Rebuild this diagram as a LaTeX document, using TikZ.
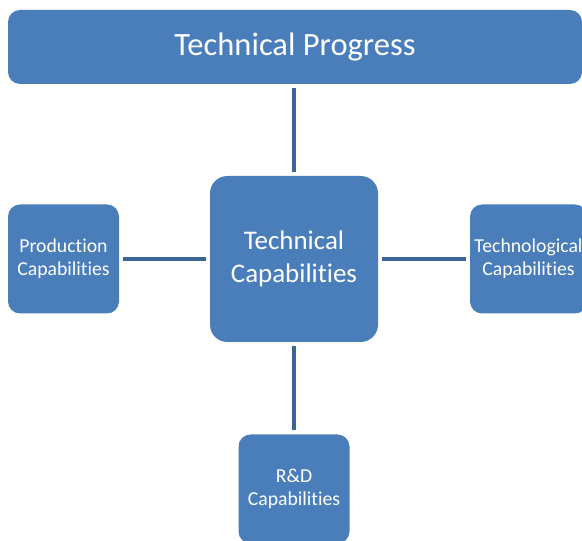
\documentclass[tikz,border=0pt]{standalone}
\usepackage{fontspec}
\setmainfont{Carlito}[Ligatures=NoCommon]
\definecolor{boxblue}{HTML}{4A7EBB}
\definecolor{linkblue}{HTML}{3B6596}
\usetikzlibrary{positioning}

\begin{document}
\begin{tikzpicture}[x=0.75pt, y=-0.75pt,
  capbox/.style={rounded corners=9pt, fill=boxblue, draw=none, text=white,
                 align=center, inner sep=0pt},
  small/.style={capbox, minimum width=83.25pt, minimum height=81.75pt,
                font=\fontsize{14.8}{17.5}\selectfont},
  link/.style={line width=3pt, linkblue, shorten <=3pt, shorten >=3pt},
]
  \clip (0,0) rectangle (582,541);
  \useasboundingbox (0,0) rectangle (582,541);

  % Boxes
  \node[capbox, minimum width=430.5pt, minimum height=55.5pt,
        font=\fontsize{24.4}{28}\selectfont] (progress) at (295,47) {Technical Progress};
  \node[capbox, rounded corners=13pt, minimum width=126pt, minimum height=124.5pt,
        font=\fontsize{20.2}{24.5}\selectfont] (core) at (294,259) {Technical\\Capabilities};
  \node[small] (prod) at (63.5,259) {Production\\Capabilities};
  \node[small, minimum width=87.75pt] (techn) at (528.5,259) {Technological\\Capabilities};
  \node[small] (rnd) at (294,489) {R\&D\\Capabilities};

  % Connectors
  \draw[link] (core.north) -- (core.north |- progress.south);
  \foreach \n in {prod, techn, rnd}
    \draw[link] (core) -- (\n);
\end{tikzpicture}
\end{document}
